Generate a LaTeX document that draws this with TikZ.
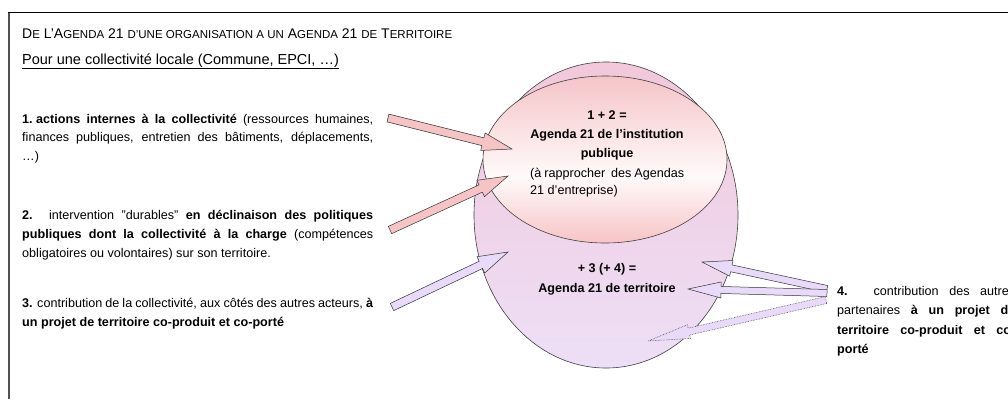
\documentclass[tikz,border=0pt]{standalone}
\usepackage{fontspec}
\setmainfont{Liberation Sans}
\usetikzlibrary{calc,shapes.geometric}
\definecolor{pinkA}{HTML}{F7C4C6}
\definecolor{lavA}{HTML}{E8DAF8}
\definecolor{smallTop}{HTML}{F5C4C8}
\definecolor{smallMid}{HTML}{FFFAFA}
\definecolor{smallBot}{HTML}{F7C4C6}
\definecolor{bigTop}{HTML}{F2C8DA}
\definecolor{bigBot}{HTML}{EDDFF7}
\definecolor{framegray}{HTML}{505050}
\pgfdeclareverticalshading{instshade}{100bp}{color(0bp)=(smallBot); color(25bp)=(smallBot); color(45bp)=(smallMid); color(75bp)=(smallTop); color(100bp)=(smallTop)}
\newcommand{\SC}[1]{{\fontsize{11.5}{13}\selectfont #1}}
\newcommand{\blockarrow}[6]{%
  \coordinate (ba-h) at ($(#3)!#6!(#2)$);
  \path[#1] ($(#2)!#4!90:(#3)$) -- ($(ba-h)!#4!-90:(#2)$) -- ($(ba-h)!#5!-90:(#2)$) -- (#3)
    -- ($(ba-h)!#5!90:(#2)$) -- ($(ba-h)!#4!90:(#2)$) -- ($(#2)!#4!-90:(#3)$) -- cycle;
}
\tikzset{
  pinkarrow/.style={fill=pinkA, draw=black!80, line width=0.5pt, line join=miter},
  lavarrow/.style={fill=lavA, draw=black!80, line width=0.5pt, line join=miter},
  lavdotted/.style={fill=lavA, draw=black!70, line width=0.6pt, densely dotted},
  body/.style={inner sep=0pt, anchor=base west},
  ctext/.style={inner sep=0pt, anchor=base},
}
\begin{document}
\begin{tikzpicture}[x=1pt,y=-1pt]
\useasboundingbox (0,0) rectangle (1008,399);
\clip (0,0) rectangle (1008,399);
\fill[white] (0,0) rectangle (1008,399);
% frame
\draw[framegray, line width=2pt] (8.5,399) -- (8.5,12.5);
\draw[black, line width=1.3pt] (7.5,12.5) -- (1008,12.5);
% ellipses
\node[ellipse, minimum width=264pt, minimum height=306pt, inner sep=0pt,
      top color=bigTop, bottom color=bigBot, draw=black!75, line width=0.6pt] (terr) at (606,215) {};
\node[ellipse, minimum width=244pt, minimum height=167pt, inner sep=0pt,
      shading=instshade, draw=black!75, line width=0.6pt] (inst) at (605,159.5) {};
% title
\node[body] (title) at (22,38) {\fontsize{14}{16}\selectfont D\SC{E} L'A\SC{GENDA} 21 \SC{D'UNE ORGANISATION A UN} A\SC{GENDA} 21 \SC{DE} T\SC{ERRITOIRE}};
\node[body] (sub) at (22,64) {\fontsize{14.5}{16}\selectfont\underline{Pour une collectivité locale (Commune, EPCI, …)}};
% paragraphs
\node[body] (p1) at (22,123) {\parbox[t]{351pt}{\fontsize{12.6}{18.5}\selectfont
  \makebox[351pt][s]{\textbf{1.\hspace{3.5pt}actions internes à la collectivité} (ressources humaines,}\\
  \makebox[351pt][s]{finances publiques, entretien des bâtiments, déplacements,}\\
  …)}};
\node[body] (p2) at (22,219) {\parbox[t]{351pt}{\fontsize{12.6}{19}\selectfont
  \makebox[351pt][s]{\textbf{2.} intervention "durables" \textbf{en déclinaison des politiques}}\\
  \makebox[351pt][s]{\textbf{publiques dont la collectivité à la charge} (compétences}\\
  obligatoires ou volontaires) sur son territoire.}};
\node[body] (p3) at (22,307) {\parbox[t]{351pt}{\fontsize{12.6}{19}\selectfont
  \makebox[351pt][s]{\textbf{3.} contribution de la collectivité, aux côtés des autres acteurs, \textbf{à}}\\
  \textbf{un projet de territoire co-produit et co-porté}}};
\node[body] (p4) at (837,295) {\parbox[t]{178pt}{\fontsize{12.6}{19.5}\selectfont
  \makebox[178pt][s]{\textbf{4.} contribution des autres}\\
  \makebox[178pt][s]{partenaires \textbf{à un projet de}}\\
  \makebox[178pt][s]{\textbf{territoire co-produit et co-}}\\
  \textbf{porté}}};
% ellipse texts
\node[ctext] (t12) at (607,119) {\parbox[t]{200pt}{\centering\bfseries\fontsize{12.6}{19}\selectfont
  1 + 2 =\\ Agenda 21 de l'institution\\ publique}};
\node[body] (t12b) at (530,177) {\parbox[t]{154pt}{\fontsize{12.6}{17}\selectfont
  \makebox[154pt][s]{(à rapprocher\ \ des Agendas}\\ 21 d'entreprise)}};
\node[ctext] (t34) at (607,272) {\parbox[t]{200pt}{\centering\bfseries\fontsize{12.6}{20}\selectfont
  + 3 (+ 4) =\\ Agenda 21 de territoire}};
% arrows
\coordinate (a1t) at (388,118); \coordinate (a1h) at (512,149);
\coordinate (a2t) at (390,230); \coordinate (a2h) at (508,176);
\coordinate (a3t) at (392,307); \coordinate (a3h) at (508,252);
\coordinate (a4t) at (827,289); \coordinate (a4h) at (702,262);
\coordinate (a5t) at (827,293); \coordinate (a5h) at (688,289);
\coordinate (a6t) at (826,300); \coordinate (a6h) at (648,341);
\blockarrow{pinkarrow}{a1t}{a1h}{4pt}{9pt}{30pt}
\blockarrow{pinkarrow}{a2t}{a2h}{4pt}{9pt}{30pt}
\blockarrow{lavarrow}{a3t}{a3h}{4pt}{9pt}{30pt}
\blockarrow{lavarrow}{a4t}{a4h}{3.5pt}{8pt}{30pt}
\blockarrow{lavarrow}{a5t}{a5h}{3.5pt}{8pt}{33pt}
\blockarrow{lavdotted}{a6t}{a6h}{3.5pt}{7pt}{42pt}
\end{tikzpicture}
\end{document}
